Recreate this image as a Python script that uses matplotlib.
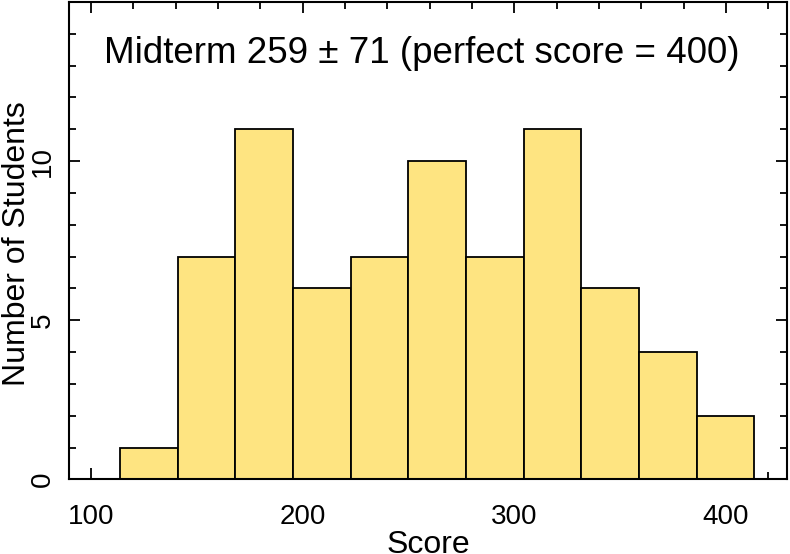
import matplotlib
matplotlib.use("Agg")
import matplotlib.pyplot as plt
from matplotlib.ticker import MultipleLocator

plt.rcParams["font.family"] = ["Liberation Sans", "DejaVu Sans"]

# --- Data: midterm score histogram ---
bin_edges = [113.7, 141.0, 168.2, 195.5, 222.7, 249.9,
             277.2, 304.4, 331.6, 358.9, 386.1, 413.3]
counts = [1, 7, 11, 6, 7, 10, 7, 11, 6, 4, 2]
title_text = "Midterm 259 \u00b1 71 (perfect score = 400)"
x_ticks = [100, 200, 300, 400]
y_ticks = [0, 5, 10]

BAR_COLOR = "#FEE481"

fig = plt.figure(figsize=(7.9, 5.54), dpi=100)
ax = fig.add_axes([0.0877, 0.1345, 0.9085, 0.8619])

lefts = bin_edges[:-1]
widths = [b - a for a, b in zip(bin_edges[:-1], bin_edges[1:])]
ax.bar(lefts, counts, width=widths, align="edge", color=BAR_COLOR,
       edgecolor="black", linewidth=1.3, zorder=2)

ax.set_xlim(89.7, 428.8)
ax.set_ylim(0, 15)

ax.set_xticks(x_ticks)
ax.set_yticks(y_ticks)
ax.xaxis.set_minor_locator(MultipleLocator(20))
ax.yaxis.set_minor_locator(MultipleLocator(1))
ax.tick_params(which="both", direction="in", top=True, right=True,
               width=1.3, labelsize=20, zorder=3)
ax.tick_params(which="major", length=7.7)
ax.tick_params(which="minor", length=4.8)
ax.tick_params(axis="x", pad=18)
ax.tick_params(axis="y", pad=9.5)
for lbl in ax.get_yticklabels():
    lbl.set_rotation(90)
    lbl.set_va("center")

for sp in ax.spines.values():
    sp.set_linewidth(1.5)
    sp.set_zorder(4)

# the reference crops the bottom of "Score" slightly at the image edge
ax.set_xlabel("Score", fontsize=23)
ax.xaxis.set_label_coords(0.5, -0.105)
ax.set_ylabel("Number of Students", fontsize=23)
ax.yaxis.set_label_coords(-0.0524, 0.495)

ax.text(256.35, 13.08, title_text, fontsize=26.5, ha="center", va="baseline")

fig.savefig("out.png", dpi=100)
